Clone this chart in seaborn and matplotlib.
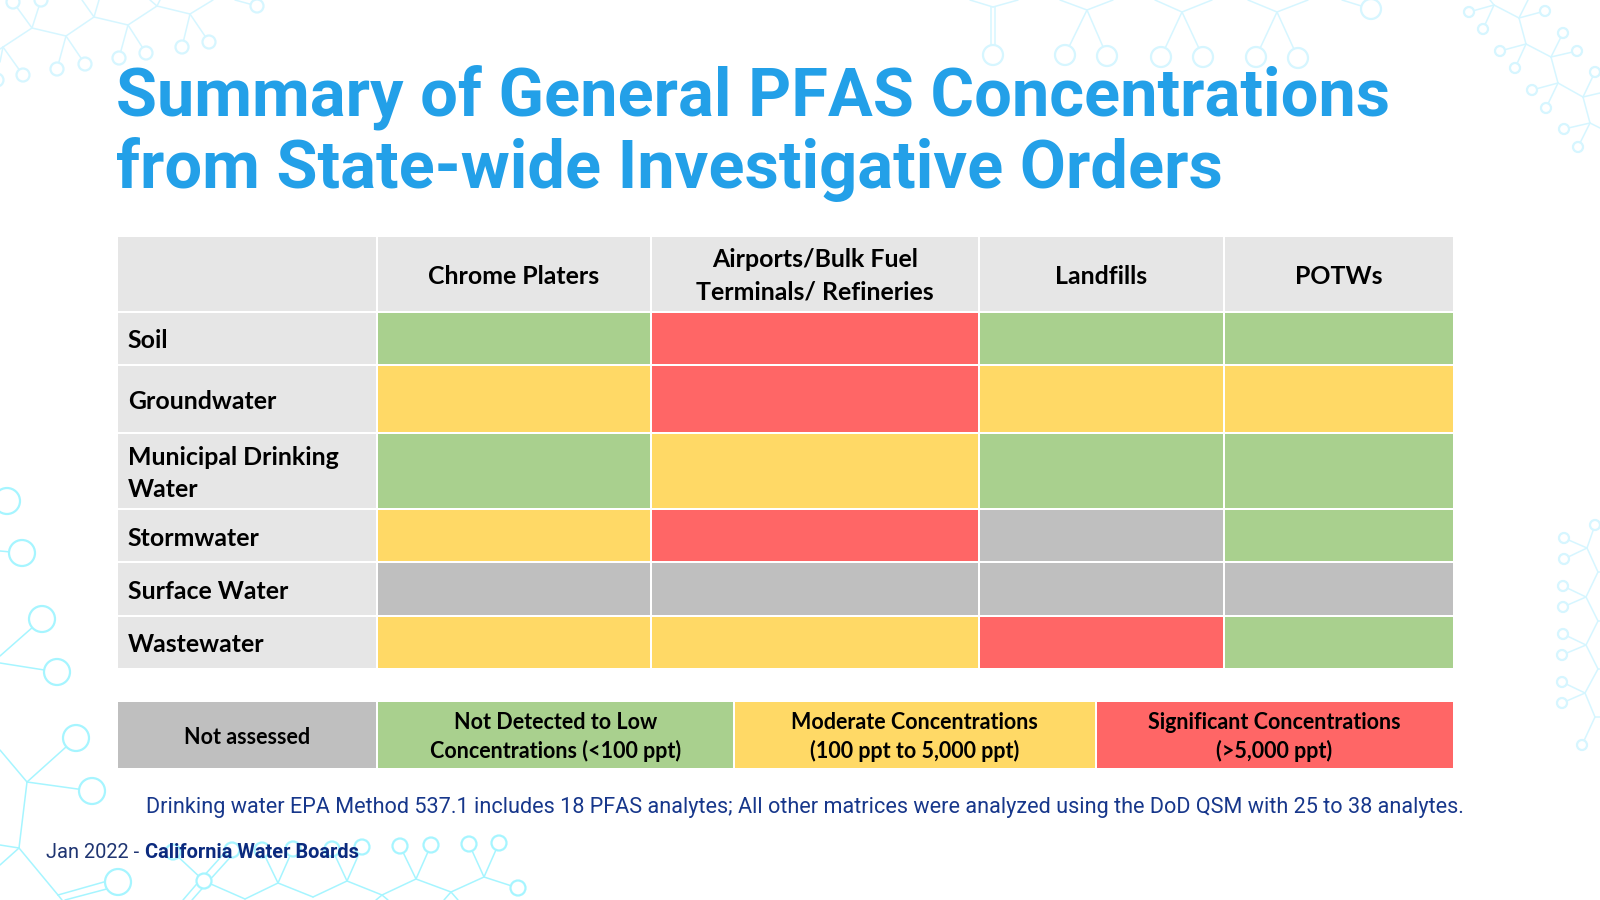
import numpy as np
import pandas as pd
import seaborn as sns
import matplotlib.pyplot as plt
from matplotlib.colors import ListedColormap
from matplotlib.patches import Circle

sns.set_theme(style="white")
plt.rcParams['font.family'] = ['Roboto', 'DejaVu Sans']

# table content
matrices = ["Soil", "Groundwater", "Municipal Drinking\nWater", "Stormwater", "Surface Water", "Wastewater"]
sources = ["Chrome Platers", "Airports/Bulk Fuel\nTerminals/ Refineries", "Landfills", "POTWs"]
chrome_platers = ["low", "mod", "low", "mod", "na", "mod"]
airports = ["high", "high", "mod", "high", "na", "mod"]
landfills = ["low", "mod", "low", "na", "na", "high"]
potws = ["low", "mod", "low", "low", "na", "low"]

legend_keys = ["na", "low", "mod", "high"]
legend_labels = ["Not assessed", "Not Detected to Low\nConcentrations (<100 ppt)",
                 "Moderate Concentrations\n(100 ppt to 5,000 ppt)", "Significant Concentrations\n(>5,000 ppt)"]

title_lines = ["Summary of General PFAS Concentrations", "from State-wide Investigative Orders"]
note = "Drinking water EPA Method 537.1 includes 18 PFAS analytes; All other matrices were analyzed using the DoD QSM with 25 to 38 analytes."

# colours, code 0 is the label cells
codes = {"label": 0, "na": 1, "low": 2, "mod": 3, "high": 4}
cell_colors = ["#E6E6E6", "#BFBFBF", "#A9D08E", "#FFD966", "#FF6666"]
cmap = ListedColormap(cell_colors)

# cell edges in pixels of the 1600x900 slide
col_edges = [117.3, 376.5, 650.5, 979, 1224, 1453.5]
row_edges = [235.5, 311.5, 365, 432.5, 509, 562, 615.5, 668.5]
legend_edges = [117.3, 377, 733.5, 1095.5, 1453.5]
legend_top, legend_bottom = 700.5, 768.5

# background molecules, slide pixels: (x1, y1, x2, y2) and (x, y, r)
pale_bonds = [
    (0, 49, 32, 28), (32, 28, 66, 36), (66, 36, 94, 17), (94, 17, 128, 25), (128, 25, 157, 6), (157, 6, 190, 14),
    (190, 14, 213, 0), (32, 28, 13, 2), (32, 28, 41, 0), (66, 36, 57, 69), (66, 36, 85, 64), (128, 25, 119, 58),
    (128, 25, 146, 53), (190, 14, 182, 47), (190, 14, 209, 42), (3, 47, 23, 75), (3, 47, 0, 62), (94, 17, 82, 0),
    (94, 17, 99, 0), (157, 6, 150, 0), (157, 6, 160, 0), (235, 0, 257, 6),
    (970, 0, 993, 7), (993, 7, 1018, 0), (991, 7, 991, 55), (995, 7, 995, 55),
    (1060, 0, 1087, 10), (1087, 10, 1113, 0), (1087, 10, 1065, 55), (1087, 10, 1107, 56),
    (1155, 0, 1182, 12), (1182, 12, 1212, 0), (1182, 12, 1161, 57), (1182, 12, 1203, 57),
    (1248, 0, 1277, 12), (1277, 12, 1308, 0), (1277, 12, 1256, 57), (1277, 12, 1298, 58), (1342, 0, 1371, 9),
    (1490, 0, 1494, 5), (1494, 5, 1519, 18), (1519, 18, 1526, 44), (1526, 44, 1551, 57), (1551, 57, 1558, 83),
    (1558, 83, 1583, 97), (1583, 97, 1590, 123), (1590, 123, 1600, 128), (1494, 5, 1469, 12), (1494, 5, 1483, 29),
    (1519, 18, 1545, 11), (1519, 18, 1528, 0), (1526, 44, 1500, 51), (1526, 44, 1515, 68), (1551, 57, 1563, 33),
    (1551, 57, 1577, 51), (1558, 83, 1532, 90), (1558, 83, 1546, 108), (1583, 97, 1595, 72), (1583, 97, 1600, 93),
    (1590, 123, 1564, 129), (1590, 123, 1578, 147),
    (1595, 525, 1587, 548), (1587, 548, 1598, 572), (1598, 572, 1586, 597), (1586, 597, 1598, 621),
    (1598, 621, 1586, 645), (1586, 645, 1598, 669), (1598, 669, 1585, 693), (1585, 693, 1595, 717),
    (1595, 717, 1582, 745), (1598, 572, 1600, 572), (1598, 621, 1600, 621), (1598, 669, 1600, 669),
    (1595, 717, 1600, 717), (1587, 548, 1564, 538), (1587, 548, 1564, 559), (1586, 597, 1563, 586),
    (1586, 597, 1563, 607), (1586, 645, 1563, 634), (1586, 645, 1562, 655), (1585, 693, 1562, 682),
    (1585, 693, 1562, 703),
]
pale_rings = [
    (13, 2, 6.5), (41, 0, 6.5), (57, 69, 6.5), (85, 64, 6.5), (119, 58, 6.5), (146, 53, 6.5), (182, 47, 6.5),
    (209, 42, 6.5), (23, 75, 6.5), (-3, 80, 6.5), (257, 6, 6.5),
    (993, 55, 10), (1065, 55, 10), (1107, 56, 10), (1161, 57, 10), (1203, 57, 10), (1256, 57, 10), (1298, 58, 10),
    (1371, 9, 10),
    (1469, 12, 5), (1483, 29, 5), (1545, 11, 5), (1500, 51, 5), (1515, 68, 5), (1563, 33, 5), (1577, 51, 5),
    (1532, 90, 5), (1546, 108, 5), (1595, 72, 5), (1564, 129, 5), (1578, 147, 5),
    (1595, 525, 5), (1582, 745, 5), (1564, 538, 5), (1564, 559, 5), (1563, 586, 5), (1563, 607, 5), (1563, 634, 5),
    (1562, 655, 5), (1562, 682, 5), (1562, 703, 5),
]
bright_bonds = [
    (0, 551, 22, 553), (0, 656, 42, 619), (0, 663, 57, 672), (27, 782, 76, 738), (27, 782, 92, 791), (27, 782, 0, 750),
    (27, 782, 19, 848), (19, 848, 0, 845), (19, 848, 0, 865), (19, 848, 58, 895), (58, 895, 62, 900),
    (58, 895, 118, 878), (65, 900, 118, 886),
    (204, 881, 245, 899), (245, 899, 278, 883), (278, 883, 313, 897), (313, 897, 347, 881), (347, 881, 382, 895),
    (382, 895, 416, 879), (416, 879, 451, 892), (451, 892, 484, 877), (484, 877, 518, 888),
    (278, 883, 262, 850), (278, 883, 293, 849), (347, 881, 332, 849), (347, 881, 362, 847), (416, 879, 400, 846),
    (416, 879, 431, 845), (484, 877, 469, 844), (484, 877, 499, 843), (204, 881, 173, 852),
    (201, 879, 229, 848), (207, 883, 235, 852), (201, 879, 183, 900), (207, 883, 192, 900),
    (382, 895, 376, 900), (382, 895, 388, 900), (451, 892, 444, 900), (451, 892, 458, 900),
]
bright_rings = [
    (7, 501, 13), (22, 553, 13), (42, 619, 13), (57, 672, 13), (76, 738, 13), (92, 791, 13), (118, 882, 13),
    (204, 881, 7.5), (173, 852, 7.5), (232, 850, 7.5), (262, 850, 7.5), (293, 849, 7.5), (332, 849, 7.5),
    (362, 847, 7.5), (400, 846, 7.5), (431, 845, 7.5), (469, 844, 7.5), (499, 843, 7.5), (518, 888, 7.5),
]


def slide_axes(left, top, right, bottom):
    return fig.add_axes([left / 1600, 1 - bottom / 900, (right - left) / 1600, (bottom - top) / 900])


def stretch(ax, xs, ys):
    # heatmap cells are uniform, so stretch the category axes to the slide's cell sizes
    x_idx = np.arange(len(xs))
    y_idx = np.arange(len(ys))
    ax.set_xscale('function', functions=(lambda v: np.interp(v, x_idx, xs), lambda v: np.interp(v, xs, x_idx)))
    ax.set_yscale('function', functions=(lambda v: np.interp(v, y_idx, ys), lambda v: np.interp(v, ys, y_idx)))
    ax.set_xlim(0, len(xs) - 1)
    ax.set_ylim(len(ys) - 1, 0)
    ax.set_xticks([])
    ax.set_yticks([])
    ax.minorticks_off()
    ax.set_xlabel('')
    ax.set_ylabel('')


def cell_text(ax, x, y, text, ha, size, spacing):
    # Lato sits a little high compared to the slide's font
    ax.annotate(text, (x, y), xytext=(0, -2.5), textcoords='offset pixels', ha=ha, va='center', fontsize=size,
                linespacing=spacing, family=['Lato', 'DejaVu Sans'], fontweight='bold', color='black')


fig = plt.figure(figsize=(16, 9), dpi=100, facecolor='white')

# slide background
bg = fig.add_axes([0, 0, 1, 1])
bg.set_xlim(0, 1600)
bg.set_ylim(900, 0)
bg.axis('off')
for bonds, rings, color in [(pale_bonds, pale_rings, '#D6F6FF'), (bright_bonds, bright_rings, '#A6F5FF')]:
    for x1, y1, x2, y2 in bonds:
        bg.plot([x1, x2], [y1, y2], color=color, lw=1.1, solid_capstyle='round', zorder=1)
    for x, y, r in rings:
        bg.add_patch(Circle((x, y), r, facecolor='white', edgecolor=color, lw=1.6, zorder=2))

for line, baseline in zip(title_lines, [115, 187.5]):
    bg.text(116, baseline, line, color='#23A0E8', fontsize=48.1, fontweight='bold', va='baseline', ha='left', zorder=5)
bg.text(145.5, 808, note, color='#17378B', fontsize=15.6, va='center', ha='left', zorder=5)
bg.text(46, 853, "Jan 2022 - ", color='#1F3572', fontsize=14.4, va='center', ha='left', zorder=5)
bg.text(145, 853, "California Water Boards", color='#0B2A7E', fontsize=14.4, fontweight='bold',
        va='center', ha='left', zorder=5)

# table, header row and first column included
table = pd.DataFrame({"Chrome Platers": chrome_platers, "Airports": airports, "Landfills": landfills, "POTWs": potws},
                     index=matrices).replace(codes).astype(int)
grid = np.zeros((len(matrices) + 1, len(sources) + 1), dtype=int)
grid[1:, 1:] = table.values

ax = slide_axes(col_edges[0], row_edges[0], col_edges[-1], row_edges[-1])
sns.heatmap(grid, ax=ax, cmap=cmap, vmin=-0.5, vmax=4.5, cbar=False, linewidths=1.4, linecolor='white')
stretch(ax, col_edges, row_edges)

for i, name in enumerate(sources):
    cell_text(ax, i + 1.5, 0.5, name, 'center', 17.9, 1.48)
for j, name in enumerate(matrices):
    cell_text(ax, 0.04, j + 1.5, name, 'left', 17.9, 1.48)

# colour key under the table
lax = slide_axes(legend_edges[0], legend_top, legend_edges[-1], legend_bottom)
sns.heatmap(np.array([[codes[k] for k in legend_keys]]), ax=lax, cmap=cmap, vmin=-0.5, vmax=4.5, cbar=False,
            linewidths=1.4, linecolor='white')
stretch(lax, legend_edges, [legend_top, legend_bottom])
for i, name in enumerate(legend_labels):
    cell_text(lax, i + 0.5, 0.5, name, 'center', 15.5, 1.35)

fig.savefig('out.png', dpi=100)
